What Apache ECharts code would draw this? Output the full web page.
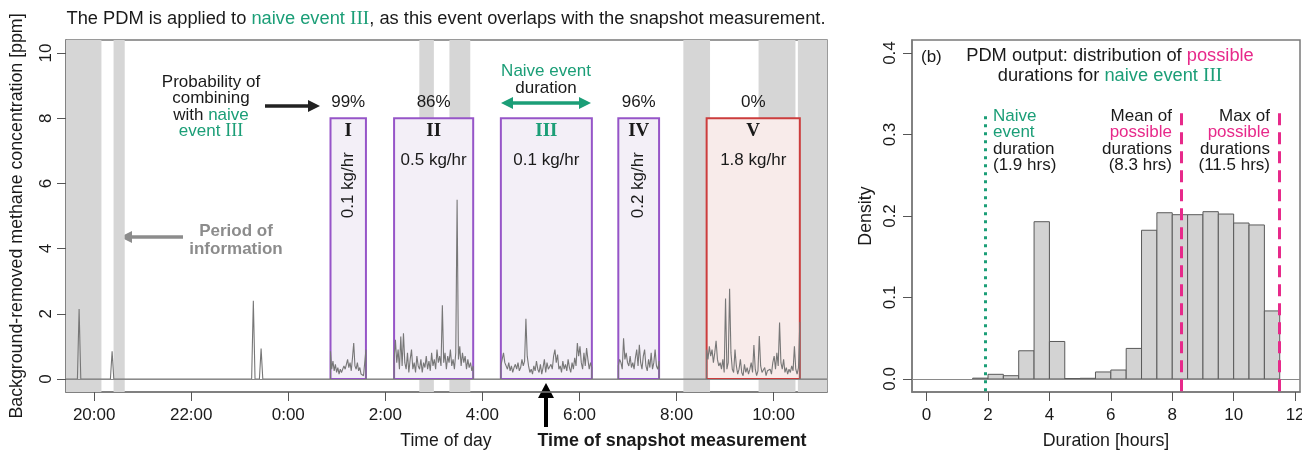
<!DOCTYPE html>
<html>
<head>
<meta charset="utf-8">
<style>html,body{margin:0;padding:0;background:#fff}#main{width:1302px;height:450px}</style>
<script src="https://cdn.jsdelivr.net/npm/echarts@6/dist/echarts.min.js"></script>
</head>
<body>
<div id="main"></div>
<script>
// ---- panel (a): time in hours from midnight of day 1 (24 = 0:00 next day)
const tickHours = [20, 22, 24, 26, 28, 30, 32, 34]
const concTicks = [0, 2, 4, 6, 8, 10]
// periods without information (grey)
const noInfoStart = [19.42, 20.40, 26.70, 27.32, 32.14, 33.69, 34.50]
const noInfoEnd = [20.15, 20.63, 27.00, 27.75, 32.69, 34.45, 35.10]
// naive events
const eventName = ['I', 'II', 'III', 'IV', 'V']
const eventStart = [24.87, 26.18, 28.38, 30.80, 32.62]
const eventEnd = [25.60, 27.81, 30.255, 31.64, 34.54]
const eventRate = ['0.1 kg/hr', '0.5 kg/hr', '0.1 kg/hr', '0.2 kg/hr', '1.8 kg/hr']
const eventProb = ['99%', '86%', '', '96%', '0%']
const naiveEvent = 2
// isolated spikes outside events
const spikeTime = [19.69, 20.37, 23.28, 23.44]
const spikeConc = [2.15, 0.85, 2.4, 0.93]
// concentrations sampled evenly across each event
const concI = [0.85, 0.3, 0.55, 0.25, 0.45, 0.2, 0.35, 0.15, 0.3, 0.2, 0.25, 0.4, 0.3, 0.45, 0.6,
  0.35, 0.5, 0.25, 0.65, 1.1, 0.4, 0.3, 0.5, 0.25, 0.35, 0.15, 0.2, 0.1, 0.15, 0.9]
const concII = [0.6, 1.2, 0.5, 0.9, 0.3, 1.3, 0.4, 1.4, 0.5, 0.3, 0.8, 0.2, 0.6, 0.9, 0.3,
  0.5, 0.2, 0.7, 0.4, 0.3, 0.6, 0.2, 0.5, 0.35, 0.7, 0.3, 0.55, 0.25, 0.8, 0.4,
  0.6, 0.3, 0.9, 0.5, 0.7, 0.4, 2.26, 0.5, 0.8, 0.3, 0.7, 0.5, 0.9, 0.4, 0.6,
  0.3, 0.8, 5.5, 0.6, 1.0, 0.4, 0.8, 0.5, 0.7, 0.3, 0.6, 0.35, 0.5, 0.25, 0.4]
const concIII = [0.4, 0.6, 0.8, 0.5, 0.45, 0.3, 0.5, 0.25, 0.4, 0.2, 0.35, 0.45, 0.3, 0.5, 0.25,
  0.35, 0.6, 0.4, 0.55, 1.85, 0.7, 0.4, 0.2, 0.3, 0.15, 0.4, 0.25, 0.55, 0.3, 0.2,
  0.45, 0.15, 0.35, 0.6, 0.2, 0.5, 0.3, 0.25, 0.45, 0.3, 0.7, 0.9, 0.5, 0.75, 0.3,
  0.4, 0.2, 0.55, 0.3, 0.45, 0.25, 0.6, 0.35, 0.2, 0.5, 0.3, 0.65, 0.4, 1.1, 0.7,
  1.0, 0.5, 0.3, 0.8, 0.4, 0.95, 0.6, 0.3, 0.5, 0.35]
const concIV = [0.4, 0.6, 0.5, 0.3, 1.25, 0.6, 0.8, 0.5, 0.4, 0.7, 0.35, 0.5, 0.3, 0.65, 0.9,
  0.4, 1.05, 0.5, 0.3, 0.7, 0.9, 0.4, 0.25, 0.6, 0.35, 0.8, 0.3, 0.5, 0.9, 0.4, 0.3, 0.55]
const concV = [0.9, 0.6, 1.0, 0.7, 0.9, 0.5, 0.8, 1.17, 0.6, 0.4, 0.5, 0.3, 0.6, 0.2, 2.47,
  0.3, 0.5, 2.77, 0.8, 0.3, 0.2, 0.9, 0.4, 0.15, 0.3, 0.6, 0.2, 0.1, 0.45, 0.2,
  0.35, 0.15, 0.3, 0.5, 0.2, 1.04, 0.3, 0.1, 0.25, 1.32, 0.4, 0.2, 0.15, 0.35, 0.1,
  0.25, 0.2, 0.3, 0.15, 0.5, 0.7, 0.3, 0.8, 0.4, 1.73, 0.5, 0.3, 0.6, 0.2, 0.35,
  0.15, 0.3, 0.2, 0.4, 0.25, 1.0, 0.3, 0.15, 0.35, 1.75]
const eventConc = [concI, concII, concIII, concIV, concV]

// ---- panel (b): histogram of possible durations
const durTicks = [0, 2, 4, 6, 8, 10, 12]
const densTicks = [0, 0.1, 0.2, 0.3, 0.4]
const binWidth = 0.5
const binStart = [1.5, 2, 2.5, 3, 3.5, 4, 4.5, 5, 5.5, 6, 6.5, 7, 7.5, 8, 8.5, 9, 9.5, 10, 10.5, 11]
const density = [0.001, 0.0057, 0.004, 0.0346, 0.193, 0.046, 0.0005, 0.0008, 0.0086, 0.011,
  0.0375, 0.1825, 0.204, 0.2016, 0.2016, 0.2053, 0.2024, 0.1914, 0.189, 0.0835]
const naiveDuration = 1.9
const meanDuration = 8.3
const maxDuration = 11.5

const SANS = '"Liberation Sans", Arial, sans-serif'
const SERIF = '"Liberation Serif", "DejaVu Serif", serif'
const GREEN = '#1b9e77', PINK = '#e7298a', PURPLE = '#9655c8', RED = '#cc3d3d'
const INK = '#1a1a1a', FRAME = '#7a7a7a'

function buildTrace () {
  const pts = [[19.42, 0], [35.1, 0]]
  spikeTime.forEach((t, i) => pts.push([t - 0.035, 0], [t, spikeConc[i]], [t + 0.035, 0]))
  eventConc.forEach((vals, i) => {
    const s = eventStart[i], e = eventEnd[i]
    pts.push([s, 0])
    vals.forEach((v, k) => pts.push([s + (e - s) * k / (vals.length - 1), v]))
    pts.push([e, 0])
  })
  return pts.sort((a, b) => a[0] - b[0])
}

function txt (x, y, text, opt) {
  return {
    type: 'text', x: x, y: y, silent: true,
    style: Object.assign({
      text: text, font: '17px ' + SANS, fill: INK,
      align: 'center', verticalAlign: 'middle', textAlign: 'center', textVerticalAlign: 'middle'
    }, opt || {})
  }
}

// horizontal arrow, heads at the ends listed
function hArrow (x1, x2, y, color, heads) {
  const out = []
  const hl = 12, hw = 6
  let a = x1, b = x2
  if (heads.indexOf('left') >= 0) {
    out.push({ type: 'polygon', silent: true, shape: { points: [[x1, y], [x1 + hl, y - hw], [x1 + hl, y + hw]] }, style: { fill: color } })
    a = x1 + hl - 1
  }
  if (heads.indexOf('right') >= 0) {
    out.push({ type: 'polygon', silent: true, shape: { points: [[x2, y], [x2 - hl, y - hw], [x2 - hl, y + hw]] }, style: { fill: color } })
    b = x2 - hl + 1
  }
  out.push({ type: 'line', silent: true, shape: { x1: a, y1: y, x2: b, y2: y }, style: { stroke: color, lineWidth: 3.5 } })
  return out
}

function richSet (size, lh) {
  const base = { fontSize: size, fontFamily: SANS, lineHeight: lh }
  return {
    k: Object.assign({ fill: INK }, base),
    g: Object.assign({ fill: GREEN }, base),
    gs: Object.assign({ fill: GREEN }, base, { fontFamily: SERIF, fontSize: size + 1 }),
    p: Object.assign({ fill: PINK }, base)
  }
}
const rich = richSet(17, 16.5)
const richBig = richSet(18.3, 19.5)

const graphics = [
  txt(446, 19, '{k|The PDM is applied to }{g|naive event }{gs|III}{k|, as this event overlaps with the snapshot measurement.}', { rich: richBig }),
  txt(73, 57, '(a)', { align: 'left', textAlign: 'left' }),
  txt(211, 107, '{k|Probability of}\n{k|combining}\n{k|with }{g|naive}\n{g|event }{gs|III}', { rich: rich }),
  txt(546, 80, '{g|Naive event}\n{k|duration}', { rich: rich }),
  txt(236, 240, 'Period of\ninformation', { font: 'bold 17px ' + SANS, fill: '#8c8c8c', lineHeight: 18 }),
  txt(446, 441, 'Time of day', { font: '17.6px ' + SANS }),
  txt(672, 441, 'Time of snapshot measurement', { font: 'bold 17.9px ' + SANS }),
  txt(921, 57, '(b)', { align: 'left', textAlign: 'left' }),
  txt(1110, 66, '{k|PDM output: distribution of }{p|possible}\n{k|durations for }{g|naive event }{gs|III}', { rich: richBig }),
  txt(993, 141, '{g|Naive}\n{g|event}\n{k|duration}\n{k|(1.9 hrs)}', { rich: rich, align: 'left', textAlign: 'left' }),
  txt(1172, 141, '{k|Mean of}\n{p|possible}\n{k|durations}\n{k|(8.3 hrs)}', { rich: rich, align: 'right', textAlign: 'right' }),
  txt(1270, 141, '{k|Max of}\n{p|possible}\n{k|durations}\n{k|(11.5 hrs)}', { rich: rich, align: 'right', textAlign: 'right' }),
  // snapshot arrow
  { type: 'rect', silent: true, shape: { x: 544, y: 396, width: 4, height: 31 }, style: { fill: '#000' } },
  { type: 'polygon', silent: true, shape: { points: [[546, 383], [538, 398], [554, 398]] }, style: { fill: '#000' } }
].concat(
  hArrow(265, 320, 106, '#222', ['right']),
  hArrow(120, 183, 237, '#8c8c8c', ['left']),
  hArrow(501, 591, 103, GREEN, ['left', 'right'])
)

function axisStyle (ticks, fmt, margin, rotate) {
  return {
    axisLine: { show: true, onZero: false, lineStyle: { color: FRAME, width: 1.5 } },
    splitLine: { show: false },
    axisTick: { show: true, customValues: ticks, length: 9, lineStyle: { color: '#555', width: 1 } },
    axisLabel: { customValues: ticks, formatter: fmt, fontSize: 17, fontFamily: SANS, color: INK, margin: margin, rotate: rotate || 0 },
    nameTextStyle: { fontSize: 17.8, fontFamily: SANS, color: INK }
  }
}

const chart = echarts.init(document.getElementById('main'))
chart.setOption({
  animation: false,
  graphic: graphics,
  grid: [
    { left: 66, top: 40, width: 761, height: 352, show: true, borderColor: FRAME, borderWidth: 1.5, outerBoundsMode: 'none' },
    { left: 912, top: 40, width: 388, height: 352, show: true, borderColor: FRAME, borderWidth: 1.5, outerBoundsMode: 'none' }
  ],
  xAxis: [
    Object.assign({ gridIndex: 0, type: 'value', min: 19.42, max: 35.1 },
      axisStyle(tickHours, v => (v % 24) + ':00', 15)),
    Object.assign({ gridIndex: 1, type: 'value', min: -0.475, max: 12.16, name: 'Duration [hours]', nameLocation: 'middle', nameGap: 40 },
      axisStyle(durTicks, v => String(v), 15))
  ],
  yAxis: [
    Object.assign({ gridIndex: 0, type: 'value', min: -0.4, max: 10.4, name: 'Background-removed methane concentration [ppm]', nameLocation: 'middle', nameRotate: 90, nameGap: 40 },
      axisStyle(concTicks, v => String(v), 11, 90)),
    Object.assign({ gridIndex: 1, type: 'value', min: -0.016, max: 0.416, name: 'Density', nameLocation: 'middle', nameRotate: 90, nameGap: 37 },
      axisStyle(densTicks, v => v.toFixed(1), 13, 90))
  ],
  series: [
    {
      // grey periods
      type: 'custom', xAxisIndex: 0, yAxisIndex: 0, z: 1, silent: true,
      data: noInfoStart.map((s, i) => [s, noInfoEnd[i]]),
      renderItem: (params, api) => {
        const cs = params.coordSys
        const x1 = api.coord([api.value(0), 0])[0]
        const x2 = api.coord([api.value(1), 0])[0]
        return { type: 'rect', shape: { x: x1, y: cs.y, width: x2 - x1, height: cs.height }, style: { fill: '#d6d6d6' } }
      }
    },
    {
      // naive event boxes + labels
      type: 'custom', xAxisIndex: 0, yAxisIndex: 0, z: 2, silent: true,
      data: eventStart.map((s, i) => [s, eventEnd[i]]),
      renderItem: (params, api) => {
        const i = params.dataIndex
        const p1 = api.coord([api.value(0), 8])
        const p2 = api.coord([api.value(1), 0])
        const cx = (p1[0] + p2[0]) / 2
        const w = p2[0] - p1[0]
        const red = eventProb[i] === '0%'
        const t = (x, y, text, font, fill, rot) => ({
          type: 'text', x: x, y: y, rotation: rot || 0,
          style: { text: text, x: 0, y: 0, font: font, fill: fill || INK, align: 'center', verticalAlign: 'middle', textAlign: 'center', textVerticalAlign: 'middle' }
        })
        const kids = [
          { type: 'rect', shape: { x: p1[0], y: p1[1], width: w, height: p2[1] - p1[1] },
            style: { fill: red ? '#f8ebea' : '#f3eff7', stroke: red ? RED : PURPLE, lineWidth: 2 } },
          t(cx, p1[1] + 13, eventName[i], 'bold 19px ' + SERIF, i === naiveEvent ? GREEN : INK),
          t(cx, p1[1] - 16, eventProb[i], '17px ' + SANS)
        ]
        if (w < 50) kids.push(t(cx, p1[1] + 67, eventRate[i], '17px ' + SANS, INK, Math.PI / 2))
        else kids.push(t(cx, p1[1] + 42, eventRate[i], '17px ' + SANS))
        return { type: 'group', children: kids }
      }
    },
    {
      type: 'line', xAxisIndex: 0, yAxisIndex: 0, z: 3, silent: true,
      data: buildTrace(), symbol: 'none',
      lineStyle: { color: '#777', width: 1.1 },
      markLine: { silent: true, symbol: ['none', 'none'], label: { show: false }, lineStyle: { color: '#8a8a8a', width: 1, type: 'solid' }, data: [{ yAxis: 0 }] }
    },
    {
      type: 'custom', xAxisIndex: 1, yAxisIndex: 1, z: 2, silent: true,
      data: binStart.map((b, i) => [b, b + binWidth, density[i]]),
      renderItem: (params, api) => {
        const p1 = api.coord([api.value(0), api.value(2)])
        const p2 = api.coord([api.value(1), 0])
        return { type: 'rect', shape: { x: p1[0], y: p1[1], width: p2[0] - p1[0], height: p2[1] - p1[1] }, style: { fill: '#d3d3d3', stroke: '#5a5a5a', lineWidth: 1 } }
      }
    },
    {
      type: 'line', xAxisIndex: 1, yAxisIndex: 1, z: 3, silent: true, data: [], symbol: 'none',
      markLine: {
        silent: true, symbol: ['none', 'none'], label: { show: false },
        data: [
          [{ coord: [-0.475, 0], lineStyle: { color: '#8a8a8a', width: 1, type: 'solid' } }, { coord: [12.16, 0] }],
          [{ coord: [naiveDuration, -0.015], lineStyle: { color: GREEN, width: 3, type: [3, 5] } }, { coord: [naiveDuration, 0.323] }],
          [{ coord: [meanDuration, -0.015], lineStyle: { color: PINK, width: 3, type: [12, 7] } }, { coord: [meanDuration, 0.331] }],
          [{ coord: [maxDuration, -0.015], lineStyle: { color: PINK, width: 3, type: [12, 7] } }, { coord: [maxDuration, 0.331] }]
        ]
      }
    }
  ]
})
</script>
</body>
</html>
